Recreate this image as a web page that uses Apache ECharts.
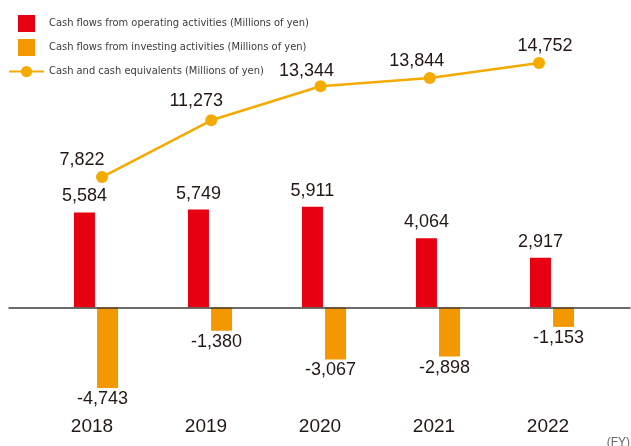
<!DOCTYPE html>
<html>
<head>
<meta charset="utf-8">
<script src="https://cdn.jsdelivr.net/npm/echarts@6/dist/echarts.min.js"></script>
<style>
    html, body { margin: 0; padding: 0; background: #fff; }
    #chart { width: 631px; height: 446px; }
</style>
</head>
<body>
<div id="chart"></div>
<script>
// values (Millions of yen)
var years = ["2018", "2019", "2020", "2021", "2022"];
var operatingCF = [5584, 5749, 5911, 4064, 2917];
var investingCF = [-4743, -1380, -3067, -2898, -1153];
var cashEquiv = [7822, 11273, 13344, 13844, 14752];

var nameOperating = "Cash flows from operating activities (Millions of yen)";
var nameInvesting = "Cash flows from investing activities (Millions of yen)";
var nameCash = "Cash and cash equivalents (Millions of yen)";

// where each line label sits relative to its point
var lineLabelOffsets = [[-20, -17], [-15, -19], [-14, -15], [-13, -16.5], [6, -17]];

var numFont = "'Liberation Sans', Arial, sans-serif";
var narrowFont = "'DejaVu Sans Condensed', 'Liberation Sans Narrow', 'Liberation Sans', sans-serif";
var textColor = "#231815";

function fmt(p) {
    return Number(p.value).toLocaleString("en-US");
}

var myChart = echarts.init(document.getElementById("chart"));

var option = {
    animation: false,
    legend: [
        {
            orient: "vertical",
            left: 13,
            top: 10,
            itemWidth: 17,
            itemHeight: 17,
            itemGap: 7,
            icon: "rect",
            data: [nameOperating, nameInvesting],
            textStyle: { fontFamily: narrowFont, fontSize: 11, color: "#3e3a39", padding: [0, 0, 0, 9] },
        },
        {
            orient: "vertical",
            left: 3,
            top: 61,
            itemWidth: 35,
            itemHeight: 14,
            data: [nameCash],
            textStyle: { fontFamily: narrowFont, fontSize: 11, color: "#3e3a39" },
        },
    ],
    grid: [
        { left: 39, right: 22, top: 40, bottom: 46 },
        { left: 47.35, right: 37.35, top: 40, bottom: 46 },
        { left: 9, right: 1, top: 40, bottom: 46 },
    ],
    xAxis: [
        {
            type: "category",
            gridIndex: 0,
            data: years,
            axisLine: { show: false },
            axisTick: { show: false },
            axisLabel: {
                margin: 17,
                fontSize: 19,
                fontFamily: numFont,
                color: textColor,
                padding: [0, 8, 0, 0],
            },
        },
        {
            type: "category",
            gridIndex: 1,
            data: years,
            show: false,
        },
        {
            // zero line across the whole width
            type: "category",
            gridIndex: 2,
            data: years,
            z: 10,
            axisLine: { show: true, onZero: true, lineStyle: { color: "#3e3a39", width: 1.5 } },
            axisTick: { show: false },
            axisLabel: { show: false },
        },
    ],
    yAxis: [
        { type: "value", gridIndex: 0, min: -5453, max: 15724, show: false },
        { type: "value", gridIndex: 1, min: -5725, max: 16152, show: false },
        { type: "value", gridIndex: 2, min: -5453, max: 15724, show: false },
    ],
    series: [
        {
            name: nameOperating,
            type: "bar",
            xAxisIndex: 0,
            yAxisIndex: 0,
            barWidth: 21,
            barGap: "10%",
            itemStyle: { color: "#e60012" },
            label: {
                show: true,
                position: "top",
                distance: 7,
                fontSize: 18,
                fontFamily: numFont,
                color: textColor,
                formatter: fmt,
            },
            data: operatingCF,
        },
        {
            name: nameInvesting,
            type: "bar",
            xAxisIndex: 0,
            yAxisIndex: 0,
            barWidth: 21,
            barGap: "10%",
            itemStyle: { color: "#f39800" },
            label: {
                show: true,
                position: "bottom",
                distance: 2,
                offset: [-5, 0],
                fontSize: 18,
                fontFamily: numFont,
                color: textColor,
                formatter: fmt,
            },
            data: investingCF,
        },
        {
            name: nameCash,
            type: "line",
            xAxisIndex: 1,
            yAxisIndex: 1,
            symbol: "circle",
            symbolSize: 12,
            lineStyle: { color: "#f5aa00", width: 2.5 },
            itemStyle: { color: "#f5aa00" },
            label: {
                show: true,
                position: "inside",
                fontSize: 18,
                fontFamily: numFont,
                color: textColor,
                formatter: fmt,
            },
            data: cashEquiv.map(function (v, i) {
                return { value: v, label: { offset: lineLabelOffsets[i] } };
            }),
        },
    ],
    graphic: [
        {
            type: "text",
            right: 1,
            bottom: -3,
            style: { text: "(FY)", font: "12px " + numFont, fill: "#666" },
        },
    ],
};

myChart.setOption(option);
</script>
</body>
</html>
